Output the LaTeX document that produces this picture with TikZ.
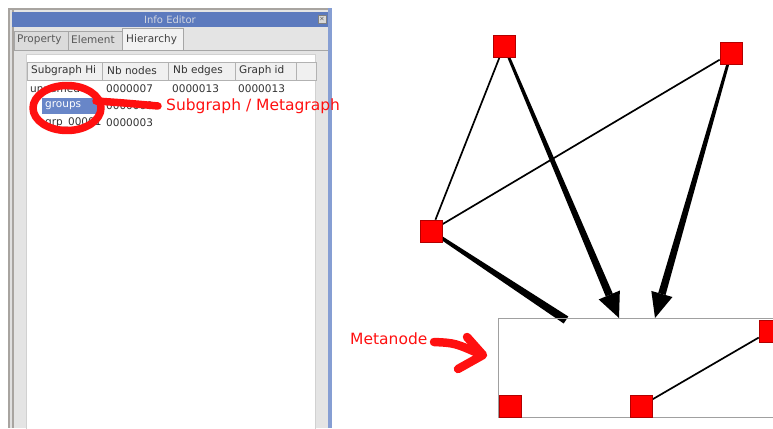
\documentclass[tikz,border=0pt]{standalone}
\usepackage{fontspec}
\setmainfont{DejaVu Sans}
\usetikzlibrary{calc,backgrounds}

\definecolor{titleblue}{RGB}{92,122,190}
\definecolor{selblue}{RGB}{104,134,200}
\definecolor{panelgray}{RGB}{228,228,228}
\definecolor{framegray}{RGB}{168,164,160}
\definecolor{inkred}{RGB}{255,16,16}
\definecolor{boxgray}{RGB}{160,160,160}

\tikzset{
  vert/.style={draw=red!70!black, line width=0.6pt, fill=red, minimum size=22pt, inner sep=0pt},
  gui/.style={font=\fontsize{10.5}{12}\selectfont, text=black!80, inner sep=0pt, anchor=west},
  note/.style={font=\fontsize{15.5}{18}\selectfont, text=inkred, inner sep=0pt, anchor=west},
  thinedge/.style={line width=1.7pt},
  tabbox/.style={draw=black!35, fill=black!14, line width=0.8pt},
  headcell/.style={draw=black!30, fill=black!6, line width=0.8pt},
  redpen/.style={draw=inkred, line width=7.5pt, line cap=round, line join=round},
}

% bande effilee entre deux points
\newcommand{\taperedge}[4]{%
  \fill ($(#1)!#3!90:(#2)$) -- ($(#2)!#4!-90:(#1)$) -- ($(#2)!#4!90:(#1)$) -- ($(#1)!#3!-90:(#2)$) -- cycle;}

\begin{document}
\begin{tikzpicture}[x=1pt, y=-1pt]
    \useasboundingbox (0,0) rectangle (773,428);

    % Fenetre Info Editor
    \fill[framegray] (8,8) rectangle (332,428);
    \fill[black!12] (10,10) rectangle (12,428);
    \fill[panelgray] (14,10) rectangle (328,428);
    \fill[selblue!80] (328,8) rectangle (332,428);
    \fill[titleblue] (12,12) rectangle (328,27);
    \node (title) at (170,19.5) [font=\fontsize{10}{12}\selectfont, text=black!10!white!85!titleblue, inner sep=0pt] {Info Editor};
    \node (close) at (322,19) [draw=black!50, fill=black!15, minimum size=8pt, inner sep=0pt, font=\fontsize{6}{6}\selectfont] {$\times$};

    % Onglets
    \draw[black!35, line width=0.8pt] (14,50) -- (328,50);
    \node (tprop) at (14,31) [tabbox, anchor=north west, minimum width=54pt, minimum height=19pt] {};
    \node (telem) at (68,31) [tabbox, anchor=north west, minimum width=54pt, minimum height=19pt] {};
    \node (thier) at (122,28) [draw=black!35, fill=black!5, line width=0.8pt, anchor=north west, minimum width=61pt, minimum height=22.5pt] {};
    \node[gui, text=black!65] (lprop) at (17,40) {Property};
    \node[gui, text=black!65] (lelem) at (71,40) {Element};
    \node[gui, text=black!75] (lhier) at (126,40) {Hierarchy};

    % Tableau des sous-graphes
    \filldraw[fill=white, draw=black!18, line width=0.8pt] (26,54) rectangle (315,440);
    \node (hsub) at (27,62) [headcell, anchor=north west, minimum width=75pt, minimum height=18pt] {};
    \node (hnodes) at (102,62) [headcell, anchor=north west, minimum width=66pt, minimum height=18pt] {};
    \node (hedges) at (168,62) [headcell, anchor=north west, minimum width=67pt, minimum height=18pt] {};
    \node (hid) at (235,62) [headcell, anchor=north west, minimum width=61pt, minimum height=18pt] {};
    \node (hnone) at (296,62) [headcell, anchor=north west, minimum width=20pt, minimum height=18pt] {};
    \node[gui] (lsub) at (31,71) {Subgraph Hi};
    \node[gui] (lnodes) at (107,71) {Nb nodes};
    \node[gui] (ledges) at (173,71) {Nb edges};
    \node[gui] (lid) at (239,71) {Graph id};

    \node[gui] (root) at (30,89) {unnamed};
    \node[gui] (rootn) at (106,89) {0000007};
    \node[gui] (roote) at (172,89) {0000013};
    \node[gui] (rootid) at (238,89) {0000013};
    \fill[selblue] (42,98) rectangle (100,114);
    \node[gui, text=white] (groups) at (45,106) {groups};
    \node[gui] (groupsn) at (106,106) {0000000};
    \draw[black!40, line width=0.8pt] (35,112) -- (35,121) -- (42,121);
    \node[gui] (grp) at (45,123) {grp\_00001};
    \node[gui] (grpn) at (106,123) {0000003};

    % Annotation rouge : sous-graphe
    \draw[redpen] (67,108) ellipse [x radius=34pt, y radius=22.5pt];
    \draw[redpen] (96,101) .. controls (125,103) .. (158,106);
    \node[note] (subnote) at (166,106) {Subgraph / Metagraph};

    % Graphe
    \node[vert] (A) at (504,46) {};
    \node[vert] (B) at (731,53) {};
    \node[vert] (C) at (431,231) {};
    \node (meta) at (498,318) [draw=boxgray, line width=1.3pt, anchor=north west, minimum width=300pt, minimum height=99pt] {};
    \node[vert] (D) at (510,406) {};
    \node[vert] (E) at (641,406) {};
    \node[vert] (F) at (770,331) {};

    \coordinate (tA) at (619,318);
    \coordinate (tB) at (655,318);
    \coordinate (tC) at (566,320);
    \coordinate (hA) at ($(tA)!25pt!(A)$);
    \coordinate (hB) at ($(tB)!25pt!(B)$);

    \begin{scope}[on background layer]
      \draw[thinedge] (A) -- (C);
      \draw[thinedge] (C) -- (B);
      \draw[thinedge] (E) -- (F);
      % aretes vers le metanoeud
      \taperedge{C}{tC}{1.6pt}{4.2pt}
      \taperedge{A}{hA}{1.3pt}{3.8pt}
      \fill (tA) -- ($(hA)!11.5pt!90:(tA)$) -- ($(hA)!11.5pt!-90:(tA)$) -- cycle;
      \taperedge{B}{hB}{1.3pt}{3.8pt}
      \fill (tB) -- ($(hB)!11pt!90:(tB)$) -- ($(hB)!11pt!-90:(tB)$) -- cycle;
    \end{scope}

    % Annotation rouge : metanoeud
    \node[note] (metanote) at (350,339) {Metanode};
    \draw[redpen, line width=8.5pt] (434,342) .. controls (455,343) .. (482,355);
    \draw[redpen, line width=8.5pt] (467,337) -- (483,355) -- (458,369);
\end{tikzpicture}
\end{document}
